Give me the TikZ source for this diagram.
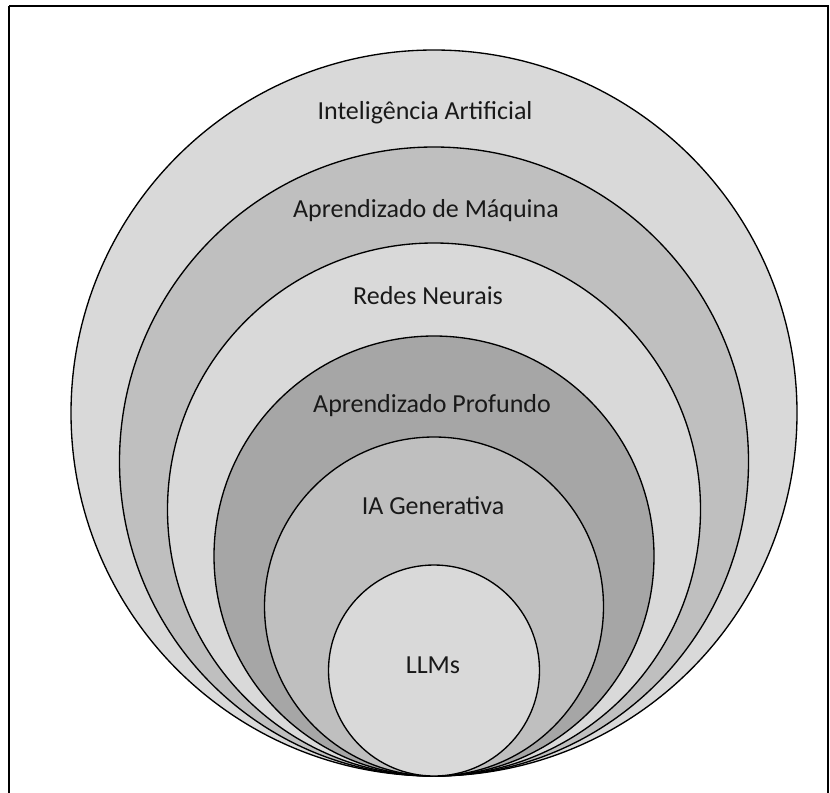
\documentclass[tikz,border=0pt]{standalone}
\usepackage{fontspec}
\setmainfont{Carlito}
\begin{document}
\begin{tikzpicture}[x=0.75pt,y=-0.75pt,
  ring/.style={circle, draw=black, line width=1pt, inner sep=0pt, minimum size=#1*1.5pt},
  lighter/.style={fill=gray!30!white},
  mid/.style={fill=gray!50!white},
  darker/.style={fill=gray!70!white},
  lbl/.style={anchor=base, font=\fontsize{19.5}{23}\selectfont, text=black!90}]
  \useasboundingbox (0,0) rectangle (830,792);
  % surrounding frame
  \draw[line width=1pt] (9,6) -- (828,6) -- (828,800) (9,6) -- (9,800);
  % nested sets, all touching at the bottom
  \node[ring=363,   lighter] (ia)   at (434,413)   {};
  \node[ring=314.5, mid]     (am)   at (434,461.5) {};
  \node[ring=266.5, lighter] (rn)   at (434,509.5) {};
  \node[ring=220,   darker]  (ap)   at (434,556)   {};
  \node[ring=169.5, mid]     (gen)  at (434,606.5) {};
  \node[ring=105.5, lighter] (llm)  at (434,670.5) {};
  % labels
  \node[lbl] (tia)  at (425,119) {Inteligência Artificial};
  \node[lbl] (tam)  at (426,217) {Aprendizado de Máquina};
  \node[lbl] (trn)  at (428,304) {Redes Neurais};
  \node[lbl] (tap)  at (432,412) {Aprendizado Profundo};
  \node[lbl] (tgen) at (433,514) {IA Generativa};
  \node[lbl] (tllm) at (433,673) {LLMs};
\end{tikzpicture}
\end{document}
